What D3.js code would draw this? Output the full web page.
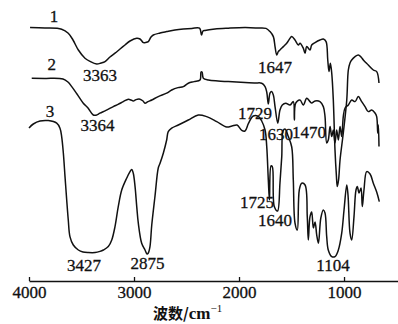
<!DOCTYPE html>
<html>
<head>
<meta charset="utf-8">
<script src="https://cdn.jsdelivr.net/npm/d3@7"></script>
<style>
  body { margin: 0; background: #fff; }
  svg { display: block; }
  .num { font-family: "Liberation Serif", "DejaVu Serif", serif; font-size: 17px; fill: #111; stroke: #111; stroke-width: 0.3px; }
</style>
</head>
<body>
<svg id="chart"></svg>
<script>
// [wavenumber cm-1, transmittance (arbitrary, offset per curve)]
const curve1 = [
  [3990,126.2],[3848,126],[3689,125.4],[3626,123.4],[3581,120],[3530,115],[3467,110.9],[3419,109.3],
  [3355,108],[3314,108.5],[3276,109.2],[3229,111.5],[3181,113.4],[3133,115.5],[3086,117.5],[3038,119.5],
  [2974,120.9],[2943,120.5],[2911,118.7],[2886,118.8],[2864,119.2],[2838,121.5],[2816,122.5],[2752,123.5],
  [2689,124.2],[2610,125],[2530,125.5],[2448,125.8],[2376,125.9],[2357,122.5],[2343,124.5],[2324,124.8],
  [2229,125.5],[2102,125.9],[1943,126.2],[1819,126],[1743,125.8],[1705,124.2],[1673,121.7],[1657,116.7],
  [1641,112.5],[1626,114.2],[1610,115],[1578,116.7],[1546,118.4],[1514,120.9],[1498,121.7],[1467,120],
  [1435,117.5],[1419,118.4],[1388,115.9],[1371,113.4],[1355,116.7],[1324,115],[1308,117.5],[1276,118.7],
  [1229,120],[1197,120.5],[1171,119.2],[1155,110],[1143,104.2],[1130,108.4],[1117,103.4],[1102,90],
  [1086,65],[1073,52.5],[1064,46.7],[1052,50],[1038,60],[1007,73.5],[974,90],[959,105],[943,108.5],
  [927,110],[895,111.7],[864,112.5],[838,111.5],[816,110],[769,107.5],[721,105],[689,104.2],[667,98.5]
];
const curve2 = [
  [3974,100.9],[3848,100.8],[3676,100.5],[3629,99],[3593,96.7],[3543,93],[3483,88.4],[3438,86],
  [3388,82.5],[3362,82.4],[3324,83.4],[3267,84.8],[3197,86.7],[3152,87.8],[3102,89.2],[3054,90.4],
  [3029,90],[3007,89.5],[2981,90.2],[2943,90.4],[2914,89.5],[2895,88.4],[2867,89.2],[2831,90],
  [2769,91.7],[2689,93.4],[2641,95],[2581,96.2],[2530,96.7],[2483,98.4],[2429,99.2],[2371,100],
  [2362,104],[2352,104],[2340,100.9],[2292,100],[2200,99.5],[2102,99.2],[1943,98.7],[1848,98.5],
  [1784,98.4],[1752,96.7],[1736,94],[1721,88],[1705,93.4],[1690,94.2],[1673,92.5],[1657,86.7],
  [1631,78.4],[1610,85],[1588,87.5],[1555,88.4],[1514,87.5],[1483,89.2],[1473,80],[1460,88.4],
  [1419,90],[1388,87.5],[1355,90.9],[1324,89.2],[1308,88.5],[1276,89.5],[1229,89.2],[1197,86.7],
  [1181,81.7],[1165,68.5],[1150,70],[1133,76.7],[1117,71.7],[1102,75],[1086,68.5],[1070,75],
  [1054,70],[1038,76.7],[1022,71.7],[1007,81.7],[990,86],[959,87.5],[927,90],[895,89.2],
  [864,91.7],[832,89.2],[800,86.7],[769,84.2],[736,85],[705,83.5],[689,81.7],[679,73.5],[673,77.5],[667,66.7]
];
const curve3 = [
  [4000,76],[3959,78],[3895,79.5],[3816,79.7],[3736,78.4],[3705,75.9],[3689,71.7],[3673,63.5],
  [3657,51.7],[3641,40],[3626,30],[3610,21.7],[3578,17.5],[3530,15],[3486,14],[3435,13.7],
  [3371,13.7],[3324,14.3],[3292,15],[3245,16.7],[3212,20],[3181,26.7],[3150,36.7],[3117,45],
  [3070,50.9],[3038,54.2],[3022,55.3],[3007,53.4],[2990,46.7],[2974,36.7],[2959,28.4],[2927,18.4],
  [2895,15],[2876,13],[2864,13.5],[2848,16.7],[2831,27.5],[2800,42],[2769,56],[2752,58.4],
  [2721,63.4],[2689,70],[2674,74.2],[2641,75.9],[2578,77.5],[2483,80],[2388,82.5],[2308,81.7],
  [2212,79.2],[2117,76.5],[2067,77],[2019,77.5],[1974,74.8],[1943,74.5],[1910,78.3],[1864,82],
  [1816,81.8],[1784,79.5],[1752,75],[1736,66.7],[1721,50],[1710,40],[1695,57],[1683,56.7],
  [1664,36.7],[1633,34.5],[1610,48.5],[1593,61.7],[1581,74.5],[1562,75.5],[1530,71.7],[1498,66.5],
  [1483,50],[1467,28.5],[1445,25],[1426,45],[1403,48.4],[1371,47.5],[1350,31.7],[1340,20],
  [1324,31.7],[1308,34],[1292,26],[1276,29],[1260,22.5],[1244,18.4],[1221,31],[1197,35],
  [1181,33.5],[1165,21.7],[1150,15],[1117,11.7],[1086,11.7],[1054,15],[1022,23.4],[1000,35],
  [974,47.5],[962,42.5],[943,23.4],[927,20],[905,31.7],[886,45],[873,46.7],[857,43.5],
  [838,46],[826,36.7],[810,45],[784,54.2],[752,53],[721,48.4],[689,44],[664,39.2]
];

// label text, anchor [wavenumber, T] (text centre, baseline)
const curveNames = [["1",3762,129],["2",3784,105],["3",3800,81.7]];
const peakLabels = [
  ["3363",3324,99.5],["3364",3348,74.5],["1647",1657,103.5],["1729",1848,80.5],
  ["1630",1648,70],["1470",1333,71],["1725",1829,36],["1640",1657,27],
  ["1104",1105,4.5],["3427",3476,4.5],["2875",2871,5.5]
];
const tickValues = [4000, 3000, 2000, 1000];

const width = 398, height = 324;
const axisY = 281;

const svg = d3.select("#chart").attr("width", width).attr("height", height);

const x = d3.scaleLinear().domain([4000, 486]).range([29, 398]);
const y = d3.scaleLinear().domain([0, 140]).range([280, 0]);

const line = d3.line()
  .x(d => x(d[0]))
  .y(d => y(d[1]))
  .curve(d3.curveCatmullRom.alpha(0.5));

svg.selectAll("path.spec")
  .data([curve1, curve2, curve3])
  .join("path")
  .attr("class", "spec")
  .attr("d", line)
  .attr("fill", "none")
  .attr("stroke", "#111")
  .attr("stroke-width", 1.5)
  .attr("stroke-linejoin", "round");

const xAxis = svg.append("g")
  .attr("transform", `translate(0,${axisY})`)
  .call(d3.axisBottom(x).tickValues(tickValues).tickFormat(d3.format("d"))
    .tickSizeInner(-4).tickSizeOuter(0).tickPadding(5));
xAxis.attr("font-family", null).attr("font-size", null);
xAxis.select(".domain").attr("stroke", "#111").attr("stroke-width", 1.3);
xAxis.selectAll(".tick line").attr("stroke", "#111").attr("stroke-width", 1.3);
xAxis.selectAll(".tick text").attr("class", "num").attr("fill", "#111");

svg.selectAll("text.cname")
  .data(curveNames)
  .join("text")
  .attr("class", "num cname")
  .attr("text-anchor", "middle")
  .attr("x", d => x(d[1]))
  .attr("y", d => y(d[2]))
  .text(d => d[0]);

svg.selectAll("text.peak")
  .data(peakLabels)
  .join("text")
  .attr("class", "num peak")
  .attr("text-anchor", "middle")
  .attr("x", d => x(d[1]))
  .attr("y", d => y(d[2]))
  .text(d => d[0]);

const title = svg.append("text")
  .attr("x", 153)
  .attr("y", 319)
  .attr("fill", "#111");
title.append("tspan")
  .attr("font-family", "'Noto Sans CJK SC', sans-serif")
  .attr("font-weight", "bold")
  .attr("font-size", 15)
  .text("波数/");
title.append("tspan")
  .attr("font-family", "'Liberation Serif', serif")
  .attr("font-weight", "bold")
  .attr("font-size", 17)
  .text("cm");
title.append("tspan")
  .attr("font-family", "'Liberation Serif', serif")
  .attr("font-size", 11)
  .attr("dy", -7)
  .text("−1");
</script>
</body>
</html>
